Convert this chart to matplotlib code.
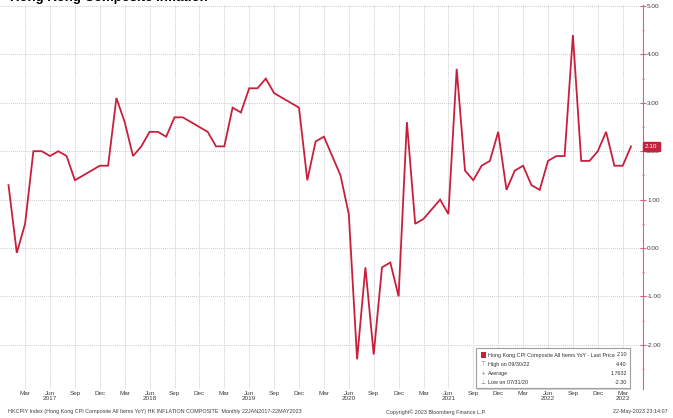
import matplotlib
matplotlib.use("Agg")
import matplotlib.pyplot as plt
from matplotlib.patches import Rectangle

# monthly HK CPI composite YoY, Jan 2017 .. Apr 2023
cpi_2017 = [1.3, -0.1, 0.5, 2.0, 2.0, 1.9, 2.0, 1.9, 1.4, 1.5, 1.6, 1.7]
cpi_2018 = [1.7, 3.1, 2.6, 1.9, 2.1, 2.4, 2.4, 2.3, 2.7, 2.7, 2.6, 2.5]
cpi_2019 = [2.4, 2.1, 2.1, 2.9, 2.8, 3.3, 3.3, 3.5, 3.2, 3.1, 3.0, 2.9]
cpi_2020 = [1.4, 2.2, 2.3, 1.9, 1.5, 0.7, -2.3, -0.4, -2.2, -0.4, -0.3, -1.0]
cpi_2021 = [2.6, 0.5, 0.6, 0.8, 1.0, 0.7, 3.7, 1.6, 1.4, 1.7, 1.8, 2.4]
cpi_2022 = [1.2, 1.6, 1.7, 1.3, 1.2, 1.8, 1.9, 1.9, 4.4, 1.8, 1.8, 2.0]
cpi_2023 = [2.4, 1.7, 1.7, 2.1]
values = cpi_2017 + cpi_2018 + cpi_2019 + cpi_2020 + cpi_2021 + cpi_2022 + cpi_2023

years = [2017, 2018, 2019, 2020, 2021, 2022, 2023]
quarter_months = ["Mar", "Jun", "Sep", "Dec"]
y_ticks = [5, 4, 3, 2, 1, 0, -1, -2]

title = "Hong Kong Composite Inflation"
legend_rows = [("Hong Kong CPI Composite All Items YoY - Last Price", "2.10"),
               ("High on 09/30/22", "4.40"),
               ("Average", "1.7632"),
               ("Low on 07/31/20", "-2.30")]
legend_marks = ["", "\u22a4", "+", "\u22a5"]

RED = "#c8203c"
AXRED = "#e0607a"
GRID = "#b8b8b8"
TXT = "#404040"
FONT = ["Liberation Sans Narrow", "Liberation Sans", "DejaVu Sans"]

plt.rcParams["font.family"] = FONT

W, H = 673, 418
fig = plt.figure(figsize=(W / 100, H / 100), dpi=100)

def fx(px):
    return px / W

def fy(py):
    return 1 - py / H

ax_top, ax_bot, ax_right = 5, 389, 643
ax = fig.add_axes([0, fy(ax_bot), fx(ax_right), fy(ax_top) - fy(ax_bot)])

x = list(range(len(values)))
ax.plot(x, values, color=RED, lw=1.3, solid_joinstyle="miter")

# month index 0 = Jan 2017 at x px 8.5, 8.3 px per month
px_per_m = 8.3
ax.set_xlim(-8.5 / px_per_m, (ax_right - 8.5) / px_per_m)
zero_px, px_per_u = 248, 48.4
ax.set_ylim((zero_px - ax_bot) / px_per_u, (zero_px - ax_top) / px_per_u)

ticks, labels = [], []
for i in range(2, len(values), 3):
    m = quarter_months[(i // 3) % 4]
    yr = years[i // 12]
    lab = m
    if m == "Jun" or i == len(values) - 2:
        lab = m + "\n" + str(yr)
    ticks.append(i)
    labels.append(lab)
ax.set_xticks(ticks)
ax.set_xticklabels(labels, fontsize=4.6, color=TXT, linespacing=1.05)
ax.tick_params(axis="x", length=0, pad=1.5)

ax.yaxis.tick_right()
ax.set_yticks(y_ticks)
ax.set_yticklabels(["%.2f" % v for v in y_ticks], fontsize=4.6, color=TXT)
ax.set_yticks([v + 0.5 for v in y_ticks[1:]] + [-2.5], minor=True)
ax.tick_params(axis="y", which="major", length=4, width=0.8, color=AXRED, pad=1, direction="inout")
ax.tick_params(axis="y", which="minor", length=2, width=0.6, color=AXRED, direction="inout")

ax.grid(True, which="major", axis="both", color=GRID, ls=(0, (1, 1.5)), lw=0.6)
for s in ["left", "top", "bottom"]:
    ax.spines[s].set_visible(False)
ax.spines["right"].set_color(AXRED)
ax.spines["right"].set_linewidth(0.8)

# last price tag
ax.annotate("2.10", xy=(1.0, values[-1]), xycoords=("axes fraction", "data"),
            xytext=(1.5, 0), textcoords="offset points", fontsize=4.6, color="white",
            va="center", ha="left",
            bbox=dict(boxstyle="square,pad=0.3", fc=RED, ec=RED))

# legend box
lx0, lx1, ly0, ly1 = 476, 630, 348, 388
fig.patches.append(Rectangle((fx(lx0) + 0.002, fy(ly1) - 0.004), fx(lx1 - lx0), fy(ly0) - fy(ly1),
                             transform=fig.transFigure, fc="#d4d4d4", ec="none", zorder=5))
fig.patches.append(Rectangle((fx(lx0), fy(ly1)), fx(lx1 - lx0), fy(ly0) - fy(ly1),
                             transform=fig.transFigure, fc="white", ec="#a0a0a0", lw=0.8, zorder=6))
fig.patches.append(Rectangle((fx(481), fy(358)), fx(5), fy(352) - fy(358),
                             transform=fig.transFigure, fc=RED, ec="none", zorder=7))
row_y = [355, 364.5, 373.5, 382.5]
for (name, val), mark, ry in zip(legend_rows, legend_marks, row_y):
    if mark:
        fig.text(fx(480.5), fy(ry), mark, fontsize=4, color="#808080", va="center", ha="left",
                 family=["DejaVu Sans"], zorder=8)
    fig.text(fx(488), fy(ry), name, fontsize=3.9, color="#303030", va="center", ha="left", zorder=8)
    fig.text(fx(627), fy(ry), val, fontsize=3.9, color="#303030", va="center", ha="right", zorder=8)

# title, clipped at the top edge
fig.text(fx(10), fy(1.5), title, fontsize=9.5, fontweight="bold", color="black",
         family=["Liberation Sans", "DejaVu Sans"], va="baseline", ha="left")

# footer
fig.text(fx(8), fy(412), "HKCPIY Index (Hong Kong CPI Composite All Items YoY) HK INFLATION COMPOSITE  Monthly 22JAN2017-22MAY2023",
         fontsize=3.85, color=TXT, va="center", ha="left")
fig.text(fx(436), fy(412), "Copyright\u00a9 2023 Bloomberg Finance L.P.", fontsize=3.85, color=TXT,
         va="center", ha="center")
fig.text(fx(668), fy(412), "22-May-2023 23:14:07", fontsize=3.85, color=TXT, va="center", ha="right")

fig.savefig("out.png", dpi=100, facecolor="white")
